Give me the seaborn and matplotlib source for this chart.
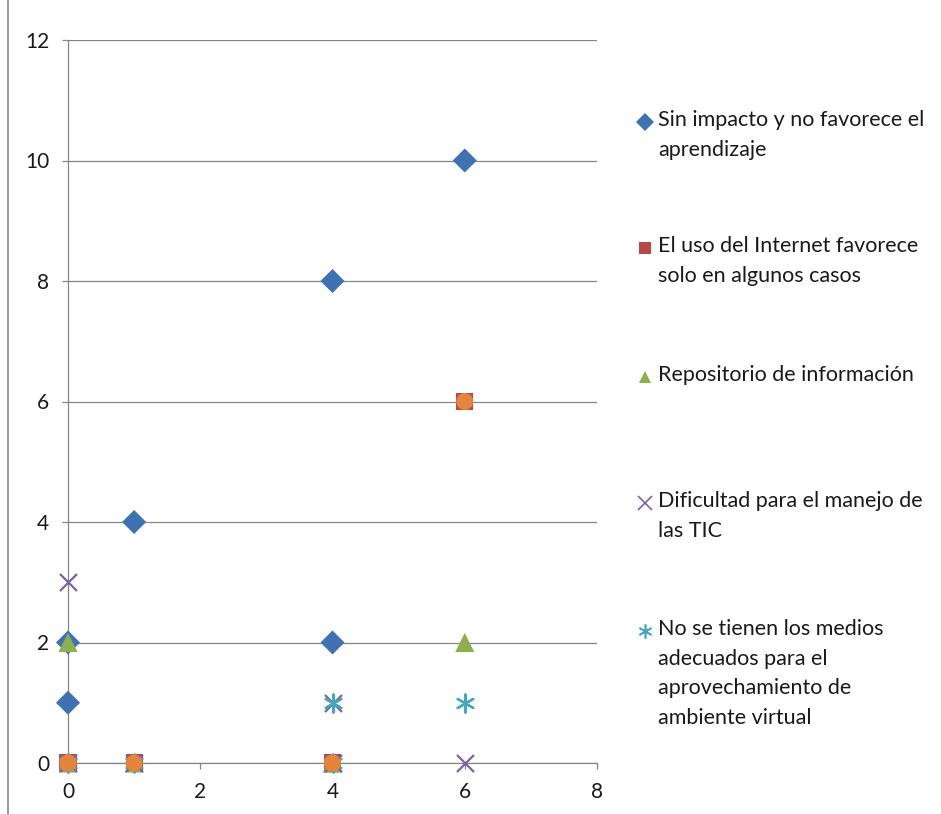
import matplotlib
matplotlib.use("Agg")
import matplotlib.pyplot as plt
from matplotlib.lines import Line2D
import seaborn as sns
import pandas as pd

# Data: shared x values and one y column per response category
x_vals = [0, 0, 1, 4, 4, 6]
sin_impacto = [1, 2, 4, 8, 2, 10]
uso_internet = [0, 0, 0, 0, 0, 6]
repositorio = [0, 2, 0, 0, 0, 2]
dificultad_tic = [3, 0, 0, 1, 0, 0]
sin_medios = [0, 0, 0, 1, 0, 1]
otros = [0, 0, 0, 0, 0, 6]

labels = [
    "Sin impacto y no favorece el\naprendizaje",
    "El uso del Internet favorece\nsolo en algunos casos",
    "Repositorio de información",
    "Dificultad para el manejo de\nlas TIC",
    "No se tienen los medios\nadecuados para el\naprovechamiento de\nambiente virtual",
]
x_ticks = [0, 2, 4, 6, 8]
y_ticks = [0, 2, 4, 6, 8, 10, 12]

sns.set_theme(style="white")
plt.rcParams["font.family"] = ["Lato", "DejaVu Sans"]

grey = "#868686"
txt = "#1a1a1a"

fig = plt.figure(figsize=(9.41, 8.14), dpi=100)
ax = fig.add_axes([68 / 941, 1 - 763 / 814, (597 - 68) / 941, (763 - 40) / 814])

series = [
    (sin_impacto, "D", "#3F72B3", 150, 0),
    (uso_internet, "s", "#B84845", 150, 0),
    (repositorio, "^", "#8DAF4E", 190, 0),
    (dificultad_tic, "x", "#7E62A0", 150, 1.6),
    (sin_medios, (6, 2, 0), "#44A7C2", 170, 1.6),
    (otros, "o", "#E5843A", 150, 0),
]

for vals, mk, col, size, lw in series:
    df = pd.DataFrame({"x": x_vals, "y": vals})
    if lw:
        sns.scatterplot(data=df, x="x", y="y", marker=mk, s=size, color=col,
                        linewidth=lw, ax=ax, clip_on=False, zorder=3)
    else:
        sns.scatterplot(data=df, x="x", y="y", marker=mk, s=size, color=col,
                        edgecolor="none", linewidth=0, ax=ax, clip_on=False, zorder=3)

ax.set_xlim(0, 8)
ax.set_ylim(0, 12)
ax.set_xticks(x_ticks)
ax.set_yticks(y_ticks)
ax.set_xlabel("")
ax.set_ylabel("")

ax.grid(axis="y", color=grey, linewidth=0.9)
ax.grid(axis="x", visible=False)
ax.set_axisbelow(True)
for side in ["top", "right"]:
    ax.spines[side].set_visible(False)
for side in ["left", "bottom"]:
    ax.spines[side].set_color(grey)
    ax.spines[side].set_linewidth(0.9)

ax.tick_params(axis="y", which="major", length=4.5, width=0.9, color=grey,
               direction="out", left=True, pad=9, labelsize=15, labelcolor=txt)
ax.tick_params(axis="x", which="major", length=4.5, width=0.9, color=grey,
               direction="out", bottom=True, pad=9, labelsize=15, labelcolor=txt)

# Legend drawn entry by entry, marker on the first text line
entry_y = [122, 248, 377, 503, 631]
for (vals, mk, col, size, lw), lab, yp in zip(series[:5], labels, entry_y):
    yf = 1 - yp / 814
    ms = 9 if mk not in ("x", (6, 2, 0)) else 10
    h = Line2D([645 / 941], [yf], marker=mk, color=col, linestyle="none",
               markersize=ms, markeredgewidth=(1.2 if lw else 0),
               markeredgecolor=col, transform=fig.transFigure)
    fig.add_artist(h)
    fig.text(658 / 941, 1 - (yp - 12) / 814, lab, ha="left", va="top",
             fontsize=15.5, color=txt, linespacing=1.6,
             transform=fig.transFigure)

# Frame line along the left edge
fig.add_artist(Line2D([8 / 941, 8 / 941], [0, 1], color=grey, linewidth=1.2,
                      transform=fig.transFigure))

fig.savefig("out.png", dpi=100)
